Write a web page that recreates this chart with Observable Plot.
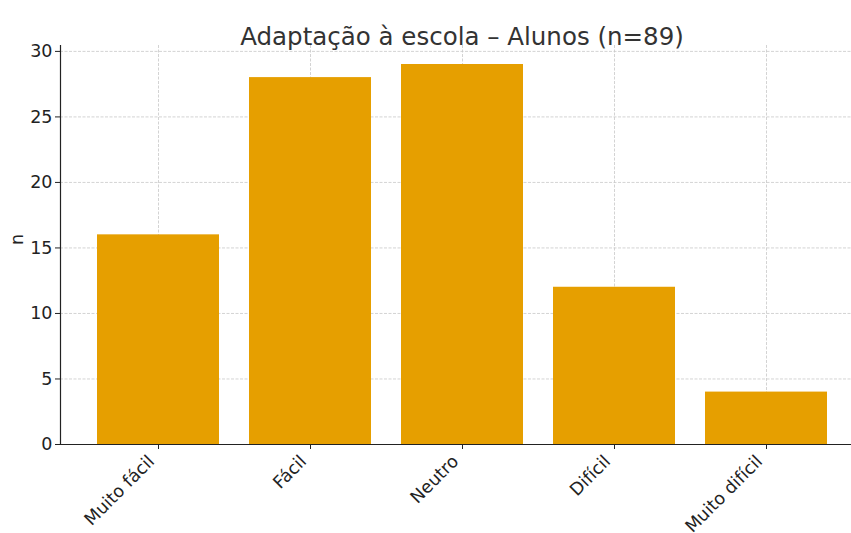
<!DOCTYPE html>
<html>
<head>
<meta charset="utf-8">
<script src="https://cdn.jsdelivr.net/npm/d3@7"></script>
<script src="https://cdn.jsdelivr.net/npm/@observablehq/plot@0.6"></script>
<style>
  html, body { margin: 0; padding: 0; background: #fff; }
  #chart { width: 851px; height: 533px; overflow: hidden; }
</style>
</head>
<body>
<div id="chart"></div>
<script>
const categories = ["Muito fácil", "Fácil", "Neutro", "Difícil", "Muito difícil"];
const counts = [16, 28, 29, 12, 4];
const yTicks = [0, 5, 10, 15, 20, 25, 30];
const titleText = "Adaptação à escola – Alunos (n=89)";
const yLabel = "n";

const data = categories.map((c, i) => ({category: c, n: counts[i]}));

const chart = Plot.plot({
  width: 851,
  height: 533,
  marginLeft: 60,
  marginRight: -12,
  marginTop: 45,
  marginBottom: 89,
  style: {fontFamily: "DejaVu Sans", fontSize: "17px", color: "#222", background: "#fff", overflow: "hidden"},
  x: {domain: categories, paddingInner: 0.2, paddingOuter: 0.24, label: null},
  y: {domain: [0, 30.45], label: null},
  marks: [
    Plot.gridY(yTicks, {stroke: "#c8c8c8", strokeOpacity: 1, strokeWidth: 0.8, strokeDasharray: "3,1.5"}),
    Plot.gridX(categories, {stroke: "#c8c8c8", strokeOpacity: 1, strokeWidth: 0.8, strokeDasharray: "3,1.5"}),
    Plot.barY(data, {x: "category", y: "n", fill: "#E69F00"}),
    Plot.axisY(yTicks, {tickSize: 5, tickFormat: () => "", stroke: "#222", label: null}),
    Plot.axisX(categories, {tickSize: 5, tickFormat: () => "", stroke: "#222", label: null}),
    Plot.text(yTicks, {y: d => d, frameAnchor: "left", dx: -8, textAnchor: "end", fontSize: 17.5, fill: "#222"}),
    Plot.text(categories, {x: d => d, frameAnchor: "bottom", rotate: -45, textAnchor: "end", lineAnchor: "middle", dx: -7, dy: 14, fontSize: 17.5, fill: "#222"}),
    Plot.frame({anchor: "left", stroke: "#222", strokeWidth: 1.2}),
    Plot.frame({anchor: "bottom", stroke: "#222", strokeWidth: 1.2}),
    Plot.text([titleText], {frameAnchor: "top", text: d => d, dy: -18, fontSize: 24.5, fill: "#333"}),
    Plot.text([yLabel], {frameAnchor: "left", text: d => d, dx: -43, rotate: -90, fontSize: 17.5, fill: "#222"})
  ]
});
document.getElementById("chart").appendChild(chart);
</script>
</body>
</html>
